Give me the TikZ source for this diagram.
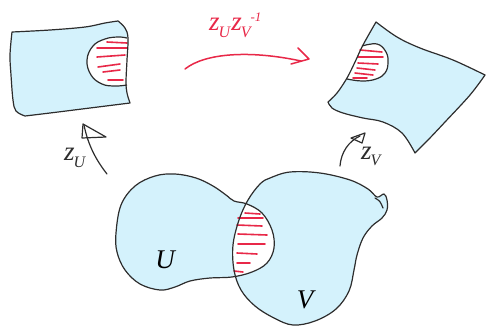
\documentclass[tikz,border=0pt]{standalone}
\usepackage{fontspec}
\setmainfont{Liberation Serif}
\definecolor{fillc}{RGB}{212,242,252}
\definecolor{edge}{RGB}{45,45,45}
\definecolor{redc}{RGB}{232,40,72}
\newcommand\zsb[2][7pt]{z\kern-1pt\raisebox{-#1}{\fontsize{16}{16}\selectfont #2}}
\begin{document}
\begin{tikzpicture}[x=1pt,y=-1pt,
  outl/.style={draw=edge, line width=1.2pt, line join=round},
  stripe/.style={draw=redc, line width=1.6pt, line cap=round},
  lab/.style={font=\fontsize{27}{27}\selectfont\itshape, inner sep=0pt},
  arr/.style={draw=edge, line width=1.2pt, line cap=round, line join=round}]
\useasboundingbox (0,0) rectangle (486,327);

% ---------- paths ----------
\def\leftpatch{(12,32) -- plot[smooth,tension=0.6] coordinates {(12,32) (50,30) (85,27) (105,23) (118,21)} -- plot[smooth,tension=0.6] coordinates {(118,21) (125,28) (128,38) (127,60) (126,82) (127,93) (130,103)} -- plot[smooth,tension=0.6] coordinates {(130,103) (90,108) (50,113) (25,116)} -- plot[smooth,tension=0.6] coordinates {(25,116) (16,111) (13,100) (11,75) (10,55) (12,32)} -- cycle}
\def\leftarc{plot[smooth,tension=0.7] coordinates {(127,38) (118,37) (105,39) (93,46) (87,60) (91,75) (102,84) (115,86) (127,85)}}
\def\rightpatch{(376,22) -- plot[smooth,tension=0.6] coordinates {(376,22) (397,37) (420,48) (453,60) (485,75)} -- plot[smooth,tension=0.6] coordinates {(485,75) (470,95) (445,122) (428,140) (415,153)} -- plot[smooth,tension=0.6] coordinates {(415,153) (402,133) (383,122) (363,118) (343,113) (332,108) (328,102)} -- plot[smooth,tension=0.6] coordinates {(328,102) (337,93) (347,78) (355,62) (363,45) (376,22)} -- cycle}
\def\rightarc{plot[smooth,tension=0.7] coordinates {(362,46) (377,44) (386,52) (388,63) (385,73) (376,79) (362,81) (347,79)}}
\def\Uregion{plot[smooth cycle,tension=0.6] coordinates {(116,233) (121,205) (135,186) (155,176) (175,174) (196,178) (213,186) (226,195) (234,201) (247,204) (262,213) (272,230) (274,248) (267,263) (252,272) (232,277) (210,278) (190,281) (175,287) (160,290) (140,284) (125,270) (117,252)}}
\def\Vregion{plot[smooth cycle,tension=0.6] coordinates {(270,178) (260,184) (248,200) (239,220) (233,245) (234,270) (241,290) (255,306) (274,318) (293,325) (315,321) (336,309) (349,291) (354,270) (357,255) (363,238) (372,226) (382,218) (387,210) (387,200) (384,194) (377,197) (368,189) (350,180) (320,173) (290,172)}}

% ---------- left patch ----------
\fill[fillc] \leftpatch;
\begin{scope}
  \clip \leftpatch;
  \fill[white] \leftarc -- (140,85) -- (140,38) -- cycle;
\end{scope}
\foreach \a/\b in {{(107,42)/(127,43)},{(97,48)/(127,48)},{(97,57)/(125,55)},{(98,67)/(120,64)},{(103,72)/(120,70)},{(108,80)/(123,80)}}
  \draw[stripe] \a -- \b;
\draw[outl] \leftpatch;
\draw[outl] \leftarc;

% ---------- right patch ----------
\fill[fillc] \rightpatch;
\begin{scope}
  \clip \rightpatch;
  \fill[white] \rightarc -- (330,79) -- (330,46) -- cycle;
\end{scope}
\foreach \a/\b in {{(360,50)/(382,52)},{(358,57)/(383,57)},{(358,63)/(378,64)},{(357,68)/(375,70)},{(355,73)/(373,75)},{(353,78)/(367,78)}}
  \draw[stripe] \a -- \b;
\draw[outl] \rightpatch;
\draw[outl] \rightarc;

% ---------- U and V ----------
\fill[fillc] \Uregion;
\fill[fillc] \Vregion;
\begin{scope}
  \clip \Uregion;
  \fill[white] \Vregion;
\end{scope}
\foreach \a/\b in {{(245,213)/(260,214)},{(238,218)/(263,218)},{(237,225)/(262,226)},{(238,234)/(267,235)},{(238,244)/(265,244)},{(237,253)/(257,254)},{(237,263)/(250,263)},{(234,271)/(243,272)}}
  \draw[stripe] \a -- \b;
\draw[outl] \Uregion;
\draw[outl] \Vregion;
\coordinate (tk1) at (375,198);
\coordinate (tk2) at (383,208);
\draw[outl, line cap=round] (tk1) .. controls (380,201) .. (tk2);

\node[lab, anchor=base] (lU) at (165,268) {U};
\node[lab, anchor=base] (lV) at (305,308) {V};

% ---------- maps ----------
\coordinate (a1s) at (107,174);
\coordinate (a1e) at (84,125);
\draw[arr] (a1s) .. controls (96,160) and (88,145) .. (a1e);
\draw[arr] (83,124) -- (82,138) -- (106,137) -- cycle;
\node[lab, anchor=base west, text=edge] (zU) at (64,160) {\zsb{U}};

\coordinate (a2s) at (340,166);
\coordinate (a2e) at (360,136);
\draw[arr] (a2s) .. controls (341,152) and (349,141) .. (a2e);
\draw[arr] (365,133) -- (351,138) -- (362,143) -- cycle;
\node[lab, anchor=base west, text=edge] (zV) at (361,159) {\zsb[6pt]{V}};

\coordinate (r1) at (185,69);
\coordinate (r2) at (301,61);
\draw[redc, line width=1.5pt, line cap=round, line join=round] (r1) .. controls (205,53) and (250,50) .. (r2);
\draw[redc, line width=1.5pt, line cap=round, line join=round] (298,48) -- (309,59) -- (291,64);
\node[lab, anchor=base west, text=redc] (zz) at (209,30) {\zsb{U}\kern1pt\zsb{V}\raisebox{9pt}{\fontsize{13}{13}\selectfont -1}};
\end{tikzpicture}
\end{document}
